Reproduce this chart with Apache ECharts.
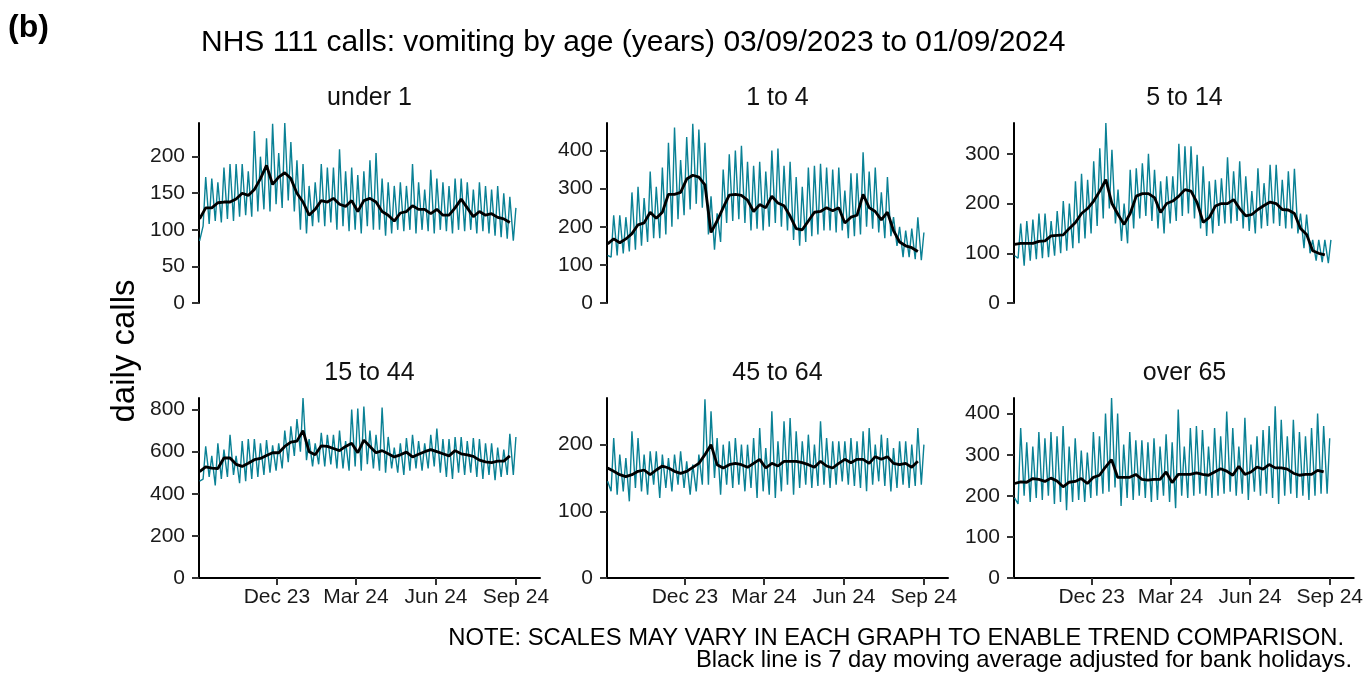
<!DOCTYPE html>
<html><head><meta charset="utf-8">
<script src="https://cdn.jsdelivr.net/npm/echarts@6/dist/echarts.min.js"></script>
<style>html,body{margin:0;padding:0;background:#fff}#c{width:1366px;height:674px}</style>
</head><body><div id="c"></div>
<script>
// ---------------- DATA ----------------
// Weekly readings: peak = Sunday value (weekend spike), low = mid-week value (Thursday), avg = 7-day moving average (at each Sunday)
const firstSunday = [2023, 8, 3];   // 03/09/2023
const panelNames = ['under 1', '1 to 4', '5 to 14', '15 to 44', '45 to 64', 'over 65'];
const xTickDates = [[2023, 11, 1], [2024, 2, 1], [2024, 5, 1], [2024, 8, 1]];
const xTickLabels = ['Dec 23', 'Mar 24', 'Jun 24', 'Sep 24'];

const yTicksU1 = [0, 50, 100, 150, 200];
const yTicks1to4 = [0, 100, 200, 300, 400];
const yTicks5to14 = [0, 100, 200, 300];
const yTicks15to44 = [0, 200, 400, 600, 800];
const yTicks45to64 = [0, 100, 200];
const yTicksOver65 = [0, 100, 200, 300, 400];
const yMaxes = [246, 472, 362, 855, 270, 438];

const peakU1 = [85, 172,170,165,185,190,190,190,180,235,200,225,245,205,246,220,195,190,160,165,190,185,185,210,180,185,175,180,195,205,170,165,160,165,160,190,165,155,182,170,165,160,170,170,165,155,165,160,155,160,150,145,130];
const lowU1 = [105,108,112,110,115,112,118,120,118,125,128,125,135,130,140,125,100,95,105,110,105,110,100,105,98,100,95,105,100,100,92,95,100,98,100,95,100,98,95,100,98,95,100,98,100,95,98,95,92,90,88,85];
const avgU1 = [115,130,130,137,138,138,142,150,147,155,170,188,162,172,178,170,150,138,120,128,140,138,143,135,132,140,125,140,143,138,125,120,112,123,125,133,128,128,122,128,120,120,130,142,130,118,125,120,122,117,115,110];

const peak1to4 = [125, 230,230,225,290,305,275,345,305,355,420,460,375,435,470,455,420,280,235,350,390,400,412,370,360,370,345,400,405,360,370,330,305,355,360,365,355,350,355,295,340,340,395,345,355,290,330,225,200,190,195,225,185];
const low1to4 = [120,125,130,135,140,150,160,170,170,180,200,220,230,245,260,250,180,140,160,210,215,220,210,190,195,190,200,210,200,190,165,150,160,175,180,190,190,185,190,170,175,180,200,195,185,170,175,150,120,120,115,112];
const avg1to4 = [155,168,158,168,182,205,210,238,222,238,285,285,290,325,335,330,310,185,215,250,283,285,282,270,240,258,250,280,262,255,228,195,192,215,238,240,250,242,250,210,225,230,285,250,240,218,238,190,160,150,145,135];

const peak5to14 = [95, 160,165,168,180,180,165,185,205,200,245,260,248,285,311,362,308,228,200,268,271,281,300,268,245,255,255,320,315,315,298,275,245,248,251,293,265,285,255,225,271,241,278,278,248,265,270,180,178,127,127,127,127];
const low5to14 = [90,75,85,88,90,92,95,100,105,110,120,130,140,155,170,190,160,125,120,150,170,175,165,150,140,160,165,175,180,170,150,135,140,155,160,160,165,150,145,140,150,155,160,155,150,150,140,110,100,85,82,80];
const avg5to14 = [118,120,120,120,124,125,135,136,137,150,162,180,190,205,225,248,200,178,158,180,215,220,220,212,182,200,205,215,228,225,202,162,172,195,200,200,208,190,175,178,188,196,203,200,188,187,180,150,138,105,100,97];

const peak15to44 = [460, 625,580,640,610,680,580,650,660,660,640,655,630,640,700,720,755,855,660,640,690,680,680,700,650,800,805,815,700,680,810,670,620,640,665,680,650,640,680,710,660,660,670,670,650,665,660,640,640,620,610,685,670];
const low15to44 = [470,480,440,470,480,490,450,460,470,480,490,500,510,520,550,580,600,560,530,540,530,540,520,520,510,530,510,540,520,510,500,520,500,490,510,520,510,520,530,500,480,470,500,490,500,480,470,490,465,480,490,490];
const avg15to44 = [505,528,522,520,570,570,540,530,545,562,568,582,595,595,625,645,650,700,600,585,628,625,615,605,625,640,595,655,625,595,605,590,575,585,598,575,588,600,610,600,590,580,605,590,585,578,560,552,548,555,555,580];

const peak45to64 = [145, 210,185,180,220,210,185,190,190,185,180,185,190,175,170,185,268,250,210,200,205,210,200,200,210,225,195,250,205,235,240,220,205,215,200,235,210,205,205,205,210,205,220,225,200,215,210,195,205,205,200,225,200];
const low45to64 = [130,125,130,115,135,130,125,140,120,135,130,140,135,125,130,140,140,150,125,140,135,140,130,135,120,130,125,120,130,140,125,135,140,135,138,140,135,140,145,140,138,135,130,140,145,138,130,135,140,135,138,140];
const avg45to64 = [165,160,155,152,155,160,162,155,162,168,165,160,157,160,166,172,185,200,170,165,170,172,170,166,172,178,165,172,168,175,175,175,173,170,166,175,168,165,172,178,173,178,178,172,182,178,182,172,170,172,166,175];

const peakOver65 = [195, 365,330,320,355,340,355,345,370,320,340,310,305,355,345,400,438,400,325,355,335,335,330,340,320,350,330,410,320,365,370,360,320,365,345,405,365,320,390,325,345,360,370,418,385,345,385,355,345,365,400,370,340];
const lowOver65 = [180,200,185,195,190,200,180,185,165,185,190,185,195,200,205,210,220,175,195,190,200,195,185,190,200,185,170,200,195,200,205,200,195,200,205,210,200,205,190,210,200,205,195,180,200,205,195,200,190,200,205,205];
const avgOver65 = [230,234,233,242,240,235,243,236,222,233,235,242,230,245,250,270,288,245,245,245,252,240,238,240,240,258,232,252,252,252,256,252,250,258,266,260,250,272,252,258,270,265,276,268,268,265,255,250,252,252,262,258];

// ---------------- BUILD ----------------
const panels = [
  {peak: peakU1, low: lowU1, avg: avgU1, ticks: yTicksU1},
  {peak: peak1to4, low: low1to4, avg: avg1to4, ticks: yTicks1to4},
  {peak: peak5to14, low: low5to14, avg: avg5to14, ticks: yTicks5to14},
  {peak: peak15to44, low: low15to44, avg: avg15to44, ticks: yTicks15to44},
  {peak: peak45to64, low: low45to64, avg: avg45to64, ticks: yTicks45to64},
  {peak: peakOver65, low: lowOver65, avg: avgOver65, ticks: yTicksOver65}
];
function dayTs(week, off) {
  return new Date(firstSunday[0], firstSunday[1], firstSunday[2] + 7 * week + off).getTime();
}
const xTickTs = xTickDates.map(d => new Date(d[0], d[1], d[2]).getTime());
const xMin = new Date(2023, 8, 2, 7).getTime();
const xMax = new Date(2024, 8, 28, 17).getTime();

const FONT = 'Liberation Sans, Arial, Helvetica, sans-serif';
const gridLefts = [199, 607, 1014];
const gridTops = [123, 398];
const GW = 341, GH = 180;

const grids = [], xAxes = [], yAxes = [], series = [], graphics = [];
panels.forEach((p, i) => {
  const col = i % 3, row = Math.floor(i / 3);
  grids.push({left: gridLefts[col], top: gridTops[row], width: GW, height: GH, containLabel: false});
  const bottom = row === 1;
  xAxes.push({
    type: 'value', gridIndex: i, min: xMin, max: xMax, show: bottom, scale: true,
    axisLine: {show: bottom, onZero: false, lineStyle: {color: '#000', width: 2}},
    axisTick: {show: bottom, length: 7, lineStyle: {color: '#333', width: 2}, customValues: xTickTs},
    axisLabel: {show: bottom, customValues: xTickTs, fontSize: 21, fontFamily: FONT, color: '#1a1a1a', margin: 9,
      formatter: v => { const k = xTickTs.findIndex(t => Math.abs(t - v) < 86400000); return k >= 0 ? xTickLabels[k] : ''; }},
    splitLine: {show: false}
  });
  yAxes.push({
    type: 'value', gridIndex: i, min: 0, max: yMaxes[i],
    axisLine: {show: true, onZero: false, lineStyle: {color: '#000', width: 2}},
    axisTick: {show: true, length: 7, lineStyle: {color: '#333', width: 2}, customValues: p.ticks},
    axisLabel: {customValues: p.ticks, fontSize: 21, fontFamily: FONT, color: '#1a1a1a', margin: 14},
    splitLine: {show: false}
  });
  const daily = [];
  p.peak.forEach((v, w) => {
    daily.push([dayTs(w, 0), v]);
    if (w < p.low.length) daily.push([dayTs(w, 4), p.low[w]]);
  });
  series.push({type: 'line', xAxisIndex: i, yAxisIndex: i, data: daily, showSymbol: false, symbol: 'none',
    lineStyle: {color: '#0a8195', width: 1.4}, z: 2, silent: true});
  series.push({type: 'line', xAxisIndex: i, yAxisIndex: i, data: p.avg.map((v, w) => [dayTs(w, 0), v]),
    showSymbol: false, symbol: 'none', lineStyle: {color: '#000', width: 2.8}, z: 3, silent: true});
  graphics.push({type: 'text', x: gridLefts[col] + GW / 2, y: row === 0 ? 98 : 373,
    style: {text: panelNames[i], fill: '#111', font: '25px ' + FONT, textAlign: 'center', textVerticalAlign: 'middle'}});
});

graphics.push({type: 'text', x: 8, y: 28, style: {text: '(b)', fill: '#000', font: 'bold 32px ' + FONT, textAlign: 'left', textVerticalAlign: 'middle'}});
graphics.push({type: 'text', x: 201, y: 43, style: {text: 'NHS 111 calls: vomiting by age (years) 03/09/2023 to 01/09/2024', fill: '#000', font: '30px ' + FONT, textAlign: 'left', textVerticalAlign: 'middle'}});
graphics.push({type: 'text', x: 125, y: 351, rotation: Math.PI / 2, style: {text: 'daily calls', fill: '#000', font: '33px ' + FONT, textAlign: 'center', textVerticalAlign: 'middle'}});
graphics.push({type: 'text', x: 1344, y: 638, style: {text: 'NOTE: SCALES MAY VARY IN EACH GRAPH TO ENABLE TREND COMPARISON.', fill: '#000', font: '23.8px ' + FONT, textAlign: 'right', textVerticalAlign: 'middle'}});
graphics.push({type: 'text', x: 1352, y: 660, style: {text: 'Black line is 7 day moving average adjusted for bank holidays.', fill: '#000', font: '23.8px ' + FONT, textAlign: 'right', textVerticalAlign: 'middle'}});

const chart = echarts.init(document.getElementById('c'), null, {renderer: 'canvas'});
chart.setOption({
  animation: false,
  backgroundColor: '#fff',
  grid: grids, xAxis: xAxes, yAxis: yAxes, series: series, graphic: graphics
});
</script></body></html>
